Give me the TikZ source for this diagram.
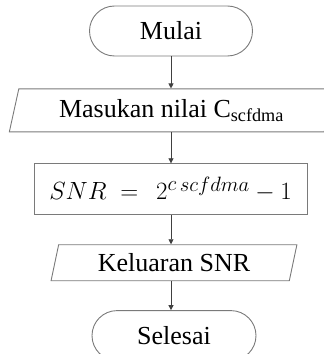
\documentclass[tikz,border=0pt]{standalone}
\usepackage{fontspec}
\setmainfont{Liberation Serif}
\usepackage{tikz}
\usetikzlibrary{arrows.meta,positioning,shapes.geometric}
\definecolor{flowline}{HTML}{7A7A7A}
\definecolor{flowarrow}{HTML}{404040}
\tikzset{
  termbox/.style={
    rounded corners=25pt,
    draw=flowline,
    line width=0.9pt,
    minimum width=163pt,
    minimum height=50pt,
    font=\fontsize{26}{30}\selectfont
  },
  iobox/.style={
    trapezium,
    trapezium stretches=true,
    draw=flowline,
    line width=0.9pt,
    inner sep=2pt,
    font=\fontsize{26}{30}\selectfont
  },
  procbox/.style={
    rectangle,
    draw=flowline,
    line width=0.9pt,
    minimum width=273pt,
    minimum height=51pt,
    font=\fontsize{28}{32}\selectfont
  },
  arrow/.style={
    -{Triangle[length=5pt,width=5pt]},
    line width=0.7pt,
    draw=flowarrow
  }
}

\begin{document}
\begin{tikzpicture}[node distance=30pt]
\useasboundingbox (0,0) rectangle (324pt,354pt);
\clip (0,0) rectangle (324pt,354pt);
\node[termbox] (mulai) at (171pt,323pt) {Mulai};
\node[iobox, trapezium left angle=75, trapezium right angle=105,
  minimum width=325pt, minimum height=43pt, below=32pt of mulai, xshift=0.5pt] (masukan)
  {Masukan nilai C\textsubscript{scfdma}};
\node[procbox, below=31pt of masukan, xshift=-1pt] (hitung)
  {$SNR \;=\;\, 2^{c\,\raisebox{-1pt}{$\scriptstyle scfdma$}} - 1$};
\node[iobox, trapezium left angle=77, trapezium right angle=103,
  minimum width=246pt, minimum height=36pt, below=29pt of hitung, xshift=3.5pt] (keluaran)
  {Keluaran SNR};
\node[termbox, minimum width=164pt, below=29pt of keluaran] (selesai) {Selesai};
\draw[arrow] (mulai.south) -- (mulai.south |- masukan.north);
\draw[arrow] (mulai.south |- masukan.south) -- (mulai.south |- hitung.north);
\draw[arrow] (mulai.south |- hitung.south) -- (mulai.south |- keluaran.north);
\draw[arrow] (mulai.south |- keluaran.south) -- (mulai.south |- selesai.north);
\end{tikzpicture}
\end{document}
